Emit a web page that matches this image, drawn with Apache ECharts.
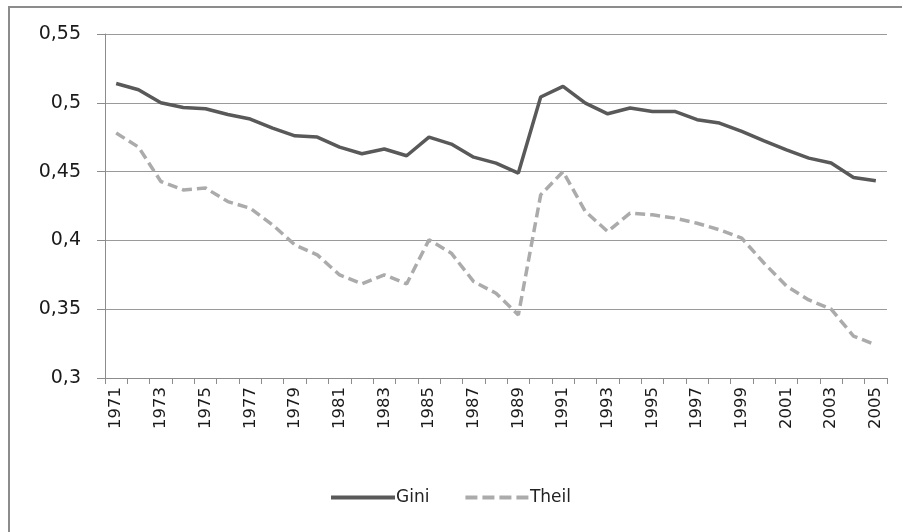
<!DOCTYPE html>
<html>
<head>
<meta charset="utf-8">
<script src="https://cdn.jsdelivr.net/npm/echarts@6/dist/echarts.min.js"></script>
<style>
html,body{margin:0;padding:0;background:#fff;}
#c{width:902px;height:532px;}
</style>
</head>
<body>
<div id="c"></div>
<script>
var years = ['1971','1972','1973','1974','1975','1976','1977','1978','1979','1980','1981','1982','1983','1984','1985','1986','1987','1988','1989','1990','1991','1992','1993','1994','1995','1996','1997','1998','1999','2000','2001','2002','2003','2004','2005'];
var gini = [0.514,0.5095,0.5,0.4966,0.4957,0.4915,0.4882,0.4816,0.476,0.4751,0.4678,0.463,0.4664,0.4615,0.4751,0.470,0.4605,0.4562,0.4489,0.5042,0.5119,0.4998,0.492,0.4962,0.4937,0.4937,0.4877,0.4853,0.4792,0.4724,0.4658,0.4598,0.4562,0.4457,0.4433];
var theil = [0.478,0.4678,0.4428,0.4367,0.438,0.4282,0.4234,0.4113,0.3967,0.3895,0.3749,0.3684,0.375,0.3684,0.4004,0.3907,0.3701,0.3616,0.3458,0.4331,0.450,0.421,0.4064,0.4198,0.4186,0.4162,0.4125,0.4077,0.4016,0.3834,0.3669,0.3567,0.350,0.3305,0.324];
var yTicks = {min:0.3, max:0.55, interval:0.05};

var chart = echarts.init(document.getElementById('c'), null, {renderer:'canvas'});
var font = 'DejaVu Sans';
chart.setOption({
  animation:false,
  backgroundColor:'#fff',
  graphic:[{type:'rect', shape:{x:9, y:7, width:900, height:540}, style:{fill:'none', stroke:'#8c8c8c', lineWidth:2}, silent:true}],
  grid:{left:105, right:15, top:34, bottom:154, containLabel:false},
  legend:{
    bottom:21, left:'center', itemWidth:64, itemHeight:4, itemGap:36,
    itemStyle:{borderWidth:0},
    textStyle:{fontFamily:font, fontSize:17, color:'#222', padding:[0,0,0,-4]},
    data:[
      {name:'Gini', icon:'rect'},
      {name:'Theil', icon:'path://M0,0h12v4h-12z M17,0h12v4h-12z M34,0h12v4h-12z M51,0h12v4h-12z'}
    ]
  },
  xAxis:{
    type:'category', data:years, boundaryGap:true,
    axisLine:{lineStyle:{color:'#8c8c8c', width:1}},
    axisTick:{show:true, interval:0, length:6, lineStyle:{color:'#8c8c8c'}},
    axisLabel:{interval:1, rotate:90, margin:9, fontFamily:font, fontSize:16.5, color:'#1a1a1a'}
  },
  yAxis:{
    type:'value', min:yTicks.min, max:yTicks.max, interval:yTicks.interval,
    axisLine:{show:true, lineStyle:{color:'#8c8c8c'}},
    axisTick:{show:true, length:8, lineStyle:{color:'#8c8c8c'}},
    splitLine:{lineStyle:{color:'#9a9a9a', width:1}},
    axisLabel:{margin:24, fontFamily:font, fontSize:19, color:'#1a1a1a',
      formatter:function(v){return String(+v.toFixed(2)).replace('.',',');}}
  },
  series:[
    {name:'Gini', type:'line', data:gini, symbol:'none', smooth:false,
     lineStyle:{color:'#595959', width:3.5}, itemStyle:{color:'#595959'}},
    {name:'Theil', type:'line', data:theil, symbol:'none',
     lineStyle:{color:'#ababab', width:3.5, type:[10,5]}, itemStyle:{color:'#ababab'}}
  ]
});
</script>
</body>
</html>
